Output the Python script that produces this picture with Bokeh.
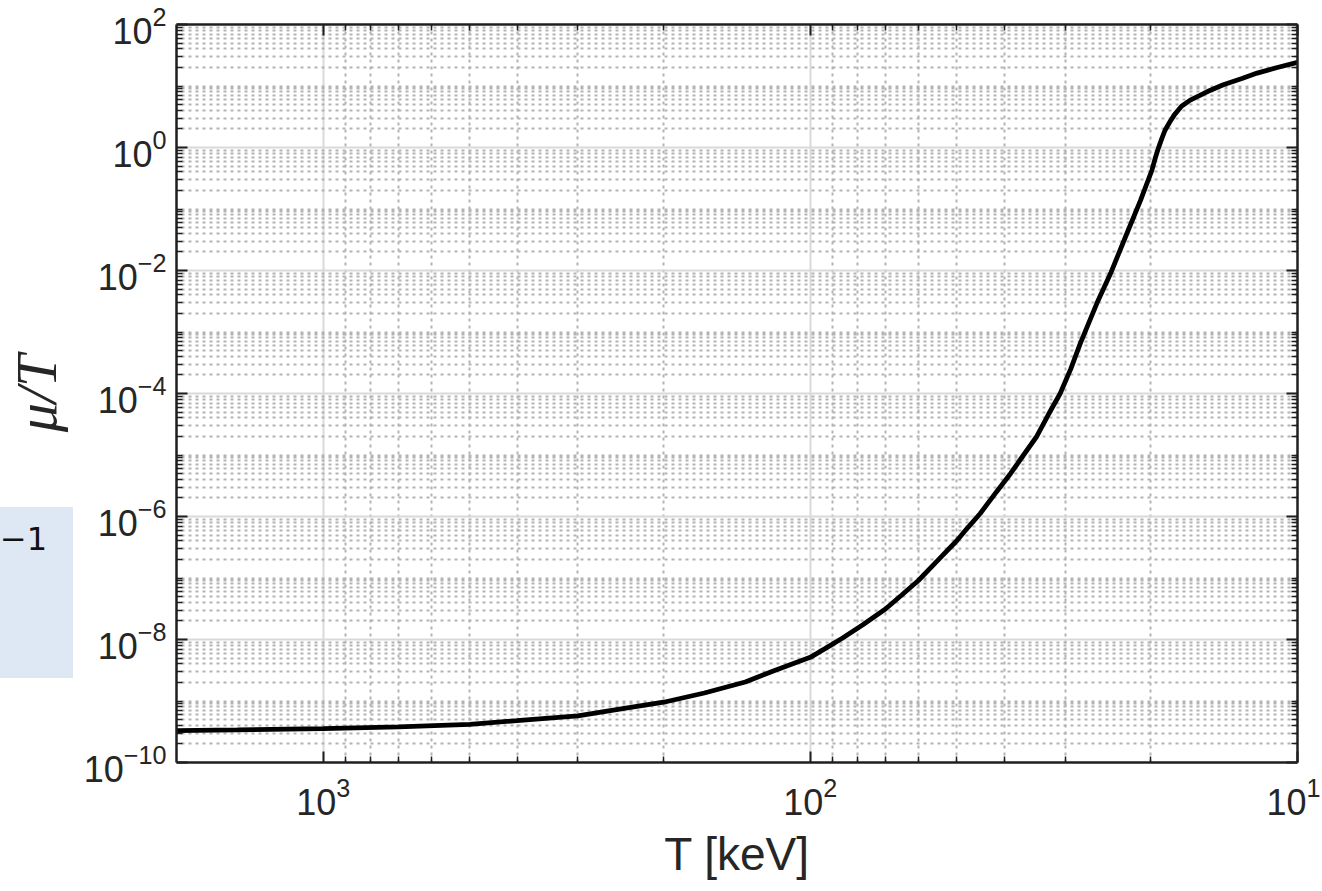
from bokeh.plotting import figure
from bokeh.models import Range1d, FixedTicker, LogAxis, CustomJSTickFormatter, Div
from bokeh.layouts import column
from bokeh.embed import file_html
from bokeh.resources import INLINE

# ---- data ----
T_keV = [2000, 1500, 1000, 700, 500, 400, 300, 250, 200, 165, 136, 118, 100, 92,
         86, 78, 70, 65, 60, 55, 50, 47.5, 44.8, 41.5, 38.8, 36.5, 34.3, 32.5,
         30.7, 29.2, 27.9, 25.8, 24.2, 22.4, 21.0, 19.9, 19.6, 19.3, 19.0, 18.7,
         18.3, 17.9, 17.3, 16.6, 15.3, 14.2, 13.0, 12.1, 11.0, 10.0]
mu_over_T = [3.31e-10, 3.39e-10, 3.55e-10, 3.80e-10, 4.17e-10, 4.79e-10, 5.75e-10,
             7.24e-10, 9.55e-10, 1.35e-9, 2.04e-9, 3.16e-9, 5.13e-9, 7.59e-9,
             1.05e-8, 1.74e-8, 3.16e-8, 5.25e-8, 9.12e-8, 1.86e-7, 4.07e-7, 6.61e-7,
             1.12e-6, 2.51e-6, 5.01e-6, 1.0e-5, 2.0e-5, 4.47e-5, 1.0e-4, 2.51e-4,
             6.6e-4, 2.95e-3, 8.9e-3, 0.040, 0.138, 0.427, 0.661, 0.977, 1.38, 1.91,
             2.57, 3.39, 4.68, 5.89, 8.13, 10.5, 13.2, 16.2, 20.0, 24.3]

x_major_ticks = [10, 100, 1000]
x_minor_ticks = [20, 30, 40, 50, 60, 70, 80, 90, 200, 300, 400, 500, 600, 700, 800, 900]
y_major_ticks = [1e-10, 1e-8, 1e-6, 1e-4, 1e-2, 1e0, 1e2]
y_minor_ticks = [m * 10.0 ** k for k in range(-10, 2) for m in range(2, 10)] + \
                [10.0 ** k for k in (-9, -7, -5, -3, -1, 1)]

x_label = "T [keV]"
y_label = "μ/T"
side_note = "−1"

AX = "#1f1f1f"
TXT = "#262626"

p = figure(width=1320, height=888, x_axis_type="log", y_axis_type="log",
           x_range=Range1d(2000, 10), y_range=Range1d(1e-10, 1e2),
           output_backend="svg", toolbar_location=None,
           min_border_left=176, min_border_right=23, min_border_top=24,
           min_border_bottom=126)
p.outline_line_color = None
p.background_fill_color = "white"
p.border_fill_color = "white"

x_ticker = FixedTicker(ticks=x_major_ticks, minor_ticks=x_minor_ticks)
y_ticker = FixedTicker(ticks=y_major_ticks, minor_ticks=y_minor_ticks)

bottom_axis = p.below[0]
left_axis = p.left[0]
top_axis = LogAxis()
right_axis = LogAxis()
p.add_layout(top_axis, "above")
p.add_layout(right_axis, "right")

blank = CustomJSTickFormatter(code="return ''")

for ax, tk in ((bottom_axis, x_ticker), (top_axis, x_ticker),
               (left_axis, y_ticker), (right_axis, y_ticker)):
    ax.ticker = tk
    ax.axis_line_color = AX
    ax.axis_line_width = 2.5
    ax.major_tick_line_color = AX
    ax.minor_tick_line_color = AX
    ax.major_tick_line_width = 2
    ax.minor_tick_line_width = 1.5
    ax.major_tick_in = 11
    ax.major_tick_out = 0
    ax.minor_tick_in = 6
    ax.minor_tick_out = 0
    ax.major_label_text_font = "Liberation Sans"
    ax.major_label_text_font_size = "36px"
    ax.major_label_text_color = TXT

for ax in (top_axis, right_axis):
    ax.formatter = blank
    ax.major_label_standoff = 0

bottom_axis.major_label_standoff = 14
bottom_axis.axis_label = x_label
bottom_axis.axis_label_text_font = "Liberation Sans"
bottom_axis.axis_label_text_font_size = "46px"
bottom_axis.axis_label_text_font_style = "normal"
bottom_axis.axis_label_text_color = TXT
bottom_axis.axis_label_standoff = 10

left_axis.major_label_standoff = 10
left_axis.axis_label = y_label
left_axis.axis_label_text_font = "Liberation Serif"
left_axis.axis_label_text_font_size = "58px"
left_axis.axis_label_text_font_style = "italic"
left_axis.axis_label_text_color = TXT
left_axis.axis_label_standoff = 12

p.xgrid.ticker = x_ticker
p.ygrid.ticker = y_ticker
for g in (p.xgrid, p.ygrid):
    g.grid_line_color = "#d9d9d9"
    g.grid_line_width = 2
    g.minor_grid_line_color = "#b3b3b3"
    g.minor_grid_line_width = 2
    g.minor_grid_line_dash = "3 4"

p.line(T_keV, mu_over_T, line_width=4.8, line_color="black")

note = Div(text=side_note, width=73, height=171,
           styles={"position": "absolute", "left": "-5px", "top": "502px",
                   "background-color": "#dde8f4", "color": "#111111",
                   "font-family": "DejaVu Sans", "font-size": "32px",
                   "padding-left": "0px", "padding-top": "10px",
                   "box-sizing": "border-box", "z-index": "5"})

page = column(p, note)
open("out.html", "w").write(file_html(page, INLINE))
